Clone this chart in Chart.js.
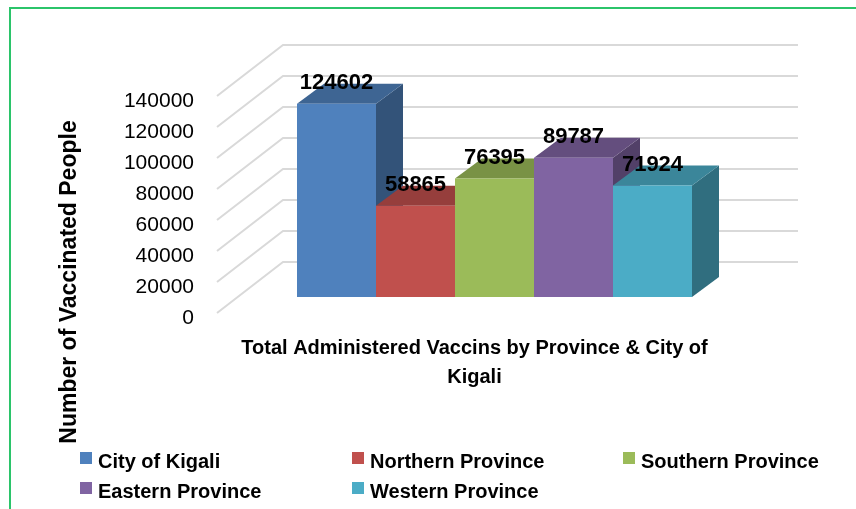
<!DOCTYPE html>
<html>
<head>
<meta charset="utf-8">
<script src="https://cdn.jsdelivr.net/npm/chart.js@4/dist/chart.umd.min.js"></script>
<style>
  html, body { margin: 0; padding: 0; background: #fff; overflow: hidden; }
  #wrap { position: relative; width: 856px; height: 509px; }
  #frame { position: absolute; left: 9px; top: 7px; width: 900px; height: 600px; border: 2px solid #2bc46a; }
  #chart { position: absolute; left: 0; top: 0; }
  #legend { position: absolute; left: 80px; top: 446px; display: grid;
    grid-template-columns: 272px 271px auto; grid-auto-rows: 30px;
    font: bold 20px "Liberation Sans", Arial, sans-serif; color: #000; }
  .item { display: flex; align-items: center; white-space: nowrap; }
  .box { width: 12px; height: 12px; margin-right: 6px; transform: translateY(-3px); }
</style>
</head>
<body>
<div id="wrap">
  <div id="frame"></div>
  <canvas id="chart" width="856" height="509"></canvas>
  <div id="legend"></div>
</div>
<script>
// data
const provinces = ['City of Kigali', 'Northern Province', 'Southern Province', 'Eastern Province', 'Western Province'];
const vaccinated = [124602, 58865, 76395, 89787, 71924];
const barColors = ['#4F81BD', '#C0504D', '#9BBB59', '#8064A2', '#4BACC6'];
const xTitle = ['Total Administered Vaccins by Province & City of', 'Kigali'];
const yTitle = 'Number of Vaccinated People';
const yMax = 140000;
const yStep = 20000;

const FONT = '"Liberation Sans", Arial, sans-serif';

// 3d look: wall depth, bar offset inside the floor, bar depth
const WALL = { dx: 66, dy: -51 };
const SHIFT = { dx: 20, dy: -16 };
const DEPTH = { dx: 27, dy: -20 };

function shade(hex, f) {
  const n = parseInt(hex.slice(1), 16);
  const r = Math.round(((n >> 16) & 255) * f);
  const g = Math.round(((n >> 8) & 255) * f);
  const b = Math.round((n & 255) * f);
  return `rgb(${r},${g},${b})`;
}

function poly(ctx, pts, color) {
  ctx.beginPath();
  ctx.moveTo(pts[0][0], pts[0][1]);
  for (let i = 1; i < pts.length; i++) ctx.lineTo(pts[i][0], pts[i][1]);
  ctx.closePath();
  ctx.fillStyle = color;
  ctx.fill();
}

const threeD = {
  id: 'threeD',
  beforeDatasetsDraw(chart) {
    const { ctx, chartArea, scales: { y } } = chart;
    // back wall + side wall grid lines
    ctx.save();
    ctx.strokeStyle = '#d9d9d9';
    ctx.lineWidth = 2;
    ctx.beginPath();
    y.ticks.forEach(t => {
      const py = y.getPixelForValue(t.value);
      ctx.moveTo(chartArea.left, py);
      ctx.lineTo(chartArea.left + WALL.dx, py + WALL.dy);
      ctx.lineTo(chartArea.right + WALL.dx, py + WALL.dy);
    });
    ctx.stroke();
    ctx.restore();

    // bars sit a bit back on the floor; restored in afterDatasetsDraw
    ctx.save();
    ctx.translate(SHIFT.dx, SHIFT.dy);
    chart.data.datasets.forEach((ds, i) => {
      const el = chart.getDatasetMeta(i).data[0];
      const { x, y: top, base, width } = el.getProps(['x', 'y', 'base', 'width'], true);
      const l = x - width / 2, r = x + width / 2;
      poly(ctx, [[r, top], [r + DEPTH.dx, top + DEPTH.dy], [r + DEPTH.dx, base + DEPTH.dy], [r, base]], shade(ds.backgroundColor, 0.64));
      poly(ctx, [[l, top], [r, top], [r + DEPTH.dx, top + DEPTH.dy], [l + DEPTH.dx, top + DEPTH.dy]], shade(ds.backgroundColor, 0.78));
    });
  },
  afterDatasetsDraw(chart) {
    const { ctx } = chart;
    ctx.restore();
    ctx.save();
    ctx.font = 'bold 22px ' + FONT;
    ctx.fillStyle = '#000';
    ctx.textAlign = 'center';
    ctx.textBaseline = 'middle';
    chart.data.datasets.forEach((ds, i) => {
      const el = chart.getDatasetMeta(i).data[0];
      ctx.fillText(String(ds.data[0]), el.x + SHIFT.dx, el.y + SHIFT.dy - 21);
    });
    ctx.restore();
  },
  afterDraw(chart) {
    const { ctx } = chart;
    ctx.save();
    ctx.translate(70, 282);
    ctx.rotate(-Math.PI / 2);
    ctx.font = 'bold 23px ' + FONT;
    ctx.fillStyle = '#000';
    ctx.textAlign = 'center';
    ctx.textBaseline = 'middle';
    ctx.fillText(yTitle, 0, 0);
    ctx.restore();
  }
};

const chart = new Chart(document.getElementById('chart'), {
  type: 'bar',
  data: {
    labels: [''],
    datasets: provinces.map((p, i) => ({
      label: p,
      data: [vaccinated[i]],
      backgroundColor: barColors[i],
      borderWidth: 0,
      clip: false
    }))
  },
  options: {
    responsive: false,
    animation: false,
    layout: { padding: { left: 100, right: 124, top: 96, bottom: 117 } },
    plugins: {
      legend: { display: false },
      tooltip: { enabled: false }
    },
    datasets: { bar: { categoryPercentage: 0.767, barPercentage: 1.0 } },
    scales: {
      x: {
        grid: { display: false, drawTicks: false },
        border: { display: false },
        ticks: { display: false },
        title: {
          display: true,
          text: xTitle,
          color: '#000',
          font: { family: FONT, size: 20, weight: 'bold', lineHeight: 29 / 20 },
          padding: { top: 21, bottom: 0 }
        }
      },
      y: {
        min: 0,
        max: yMax,
        afterFit(scale) { scale.width = 117; },
        grid: { display: false, drawTicks: false },
        border: { display: false },
        ticks: {
          stepSize: yStep,
          padding: 23,
          labelOffset: 5,
          color: '#000',
          font: { family: FONT, size: 21 },
          callback: v => String(v)
        }
      }
    }
  },
  plugins: [threeD]
});

// legend laid out in three columns like the original
const legend = document.getElementById('legend');
chart.data.datasets.forEach(ds => {
  const item = document.createElement('div');
  item.className = 'item';
  const box = document.createElement('span');
  box.className = 'box';
  box.style.background = ds.backgroundColor;
  item.appendChild(box);
  item.appendChild(document.createTextNode(ds.label));
  legend.appendChild(item);
});
</script>
</body>
</html>
